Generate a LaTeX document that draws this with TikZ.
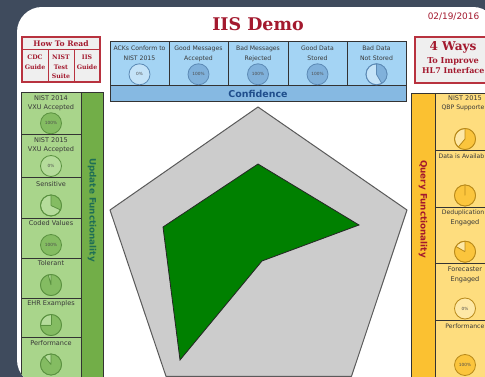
\documentclass[tikz,border=0pt]{standalone}
\usepackage{fontspec}
\setmainfont{DejaVu Sans}
\newfontfamily\serifbf{DejaVu Serif}
\definecolor{bgdark}{HTML}{3F4B5D}
\definecolor{titlered}{HTML}{A3192E}
\definecolor{boxred}{HTML}{B8323F}
\definecolor{boxgrey}{HTML}{EFEFEF}
\definecolor{bcell}{HTML}{A4D4F4}
\definecolor{bbar}{HTML}{86B9E2}
\definecolor{bfull}{HTML}{80B1DB}
\definecolor{bempty}{HTML}{C4E3F8}
\definecolor{bline}{HTML}{5C8AB5}
\definecolor{btext}{HTML}{1F4E8C}
\definecolor{gcell}{HTML}{A9D58B}
\definecolor{gstrip}{HTML}{72AE48}
\definecolor{gfull}{HTML}{84BC62}
\definecolor{gempty}{HTML}{B5DC9B}
\definecolor{gline}{HTML}{5A9140}
\definecolor{gtext}{HTML}{1E6E55}
\definecolor{ocell}{HTML}{FEDD7E}
\definecolor{ostrip}{HTML}{FBC131}
\definecolor{ofull}{HTML}{FBC53D}
\definecolor{oempty}{HTML}{FEE8A6}
\definecolor{oline}{HTML}{B8891A}
\definecolor{radgrey}{HTML}{CCCCCC}
\definecolor{radline}{HTML}{5A5A5A}
\definecolor{radgreen}{HTML}{008000}
\def\gr{7.875pt}
% name, x, y, palette, label
\newcommand\gaugeempty[5]{\node[gaugenode, fill=#4empty, draw=#4line] (#1) at (#2,#3) {#5};}
\newcommand\gaugefull[5]{\node[gaugenode, fill=#4full, draw=#4line] (#1) at (#2,#3) {#5};}
% name, x, y, palette, end angle
\newcommand\gaugepart[5]{%
  \node[gaugenode, fill=#4empty, draw=#4line] (#1) at (#2,#3) {};
  \fill[#4full] (#1.center) -- ++(90:\gr) arc[start angle=90, end angle=#5, radius=\gr] -- cycle;
  \draw[#4line, line width=0.6pt] (#1.center) -- ++(90:\gr) (#1.center) -- ++(#5:\gr);
  \draw[#4line, line width=0.6pt] (#1.center) circle[radius=\gr];
}
\begin{document}
\begin{tikzpicture}[x=0.75pt,y=-0.75pt,
  cellline/.style={draw=black!80, line width=0.75pt},
  celltxt/.style={font=\fontsize{4.9}{7}\selectfont, text=black!78, align=center, inner sep=0pt, anchor=north},
  bluetxt/.style={celltxt, font=\fontsize{4.6}{7}\selectfont},
  edgetxt/.style={bluetxt, anchor=north east},
  gaugenode/.style={circle, minimum size=15.75pt, inner sep=0pt, line width=0.6pt, font=\fontsize{3.2}{4}\selectfont, text=black!70},
  redbox/.style={draw=boxred, line width=1pt, fill=boxgrey},
  redsmall/.style={font=\serifbf\bfseries\fontsize{4.65}{7.1}\selectfont, text=titlered, align=center, inner sep=0pt, anchor=north},
  striptxt/.style={rotate=-90, font=\bfseries\fontsize{6.6}{8}\selectfont, inner sep=0pt}]
\useasboundingbox (0,0) rectangle (485,377);
\fill[bgdark] (0,0) rectangle (485,377);
\begin{scope}
\clip[rounded corners=18.75pt] (17,7) rectangle (498,385);
\fill[white] (17,7) rectangle (498,385);

% title and date
\node[font=\serifbf\bfseries\fontsize{13.1}{15}\selectfont, text=titlered, inner sep=0pt] (title) at (258,24.5) {IIS Demo};
\node[font=\fontsize{6.7}{8}\selectfont, text=titlered, inner sep=0pt] (date) at (453.5,16.5) {02/19/2016};

% How To Read
\draw[redbox] (22,37) rectangle (100,82);
\draw[boxred, line width=0.75pt] (22,50) -- (100,50) (48,50) -- (48,82) (74,50) -- (74,82);
\node[font=\serifbf\bfseries\fontsize{5.7}{7}\selectfont, text=titlered, inner sep=0pt] (howto) at (61,43.5) {How To Read};
\node[redsmall] (cdc) at (35,55) {CDC\\Guide};
\node[redsmall] (nist) at (61,55) {NIST\\Test\\Suite};
\node[redsmall] (iisg) at (87,55) {IIS\\Guide};

% 4 Ways
\draw[redbox] (415,37) rectangle (493,83);
\node[font=\serifbf\bfseries\fontsize{9.1}{11}\selectfont, text=titlered, inner sep=0pt] (ways) at (453,47.5) {4 Ways};
\node[font=\serifbf\bfseries\fontsize{6.15}{8}\selectfont, text=titlered, inner sep=0pt] (improve) at (453,61.7) {To Improve};
\node[font=\serifbf\bfseries\fontsize{5.95}{8}\selectfont, text=titlered, inner sep=0pt, anchor=east] (hl7) at (484.6,70.7) {HL7 Interface};

% Confidence panel
\fill[bcell] (110,42) rectangle (406,86);
\fill[bbar] (110,86) rectangle (406,102);
\draw[cellline] (110,42) rectangle (406,102) (110,86) -- (406,86)
  (169,42) -- (169,86) (228,42) -- (228,86) (288,42) -- (288,86) (347,42) -- (347,86);
\node[bluetxt] (bt1) at (139.5,46) {ACKs Conform to\\NIST 2015};
\node[bluetxt] (bt2) at (198.5,46) {Good Messages\\Accepted};
\node[bluetxt] (bt3) at (258,46) {Bad Messages\\Rejected};
\node[bluetxt] (bt4) at (317.5,46) {Good Data\\Stored};
\node[bluetxt] (bt5) at (376.5,46) {Bad Data\\Not Stored};
\gaugeempty{bg1}{139.5}{74.3}{b}{0\%}
\gaugefull{bg2}{198.5}{74.3}{b}{100\%}
\gaugefull{bg3}{258}{74.3}{b}{100\%}
\gaugefull{bg4}{317.5}{74.3}{b}{100\%}
\gaugepart{bg5}{376.5}{74.3}{b}{-60}
\node[font=\bfseries\fontsize{7.1}{9}\selectfont, text=btext, inner sep=0pt] (conf) at (258,93.8) {Confidence};

% Update functionality column
\fill[gcell] (21,93) rectangle (81,392);
\fill[gstrip] (81,93) rectangle (103,392);
\draw[cellline] (21,93) rectangle (103,392) (81,93) -- (81,392)
  (21,135) -- (81,135) (21,178) -- (81,178) (21,218.3) -- (81,218.3)
  (21,258.3) -- (81,258.3) (21,298.3) -- (81,298.3) (21,338) -- (81,338);
\node[striptxt, text=gtext] (updfun) at (92,210) {Update Functionality};
\node[celltxt] (gt1) at (51,95.0) {NIST 2014\\VXU Accepted};
\node[celltxt] (gt2) at (51,137.5) {NIST 2015\\VXU Accepted};
\node[celltxt] (gt3) at (51,181.0) {Sensitive};
\node[celltxt] (gt4) at (51,220.6) {Coded Values};
\node[celltxt] (gt5) at (51,260.6) {Tolerant};
\node[celltxt] (gt6) at (51,300.6) {EHR Examples};
\node[celltxt] (gt7) at (51,340.6) {Performance};
\gaugefull{gg1}{51}{123.3}{g}{100\%}
\gaugeempty{gg2}{51}{166}{g}{0\%}
\gaugepart{gg3}{51}{205.5}{g}{-25}
\gaugefull{gg4}{51}{245}{g}{100\%}
\gaugepart{gg5}{51}{285}{g}{-255}
\gaugepart{gg6}{51}{325}{g}{-180}
\gaugepart{gg7}{51}{364.5}{g}{-230}

% Query functionality column
\fill[ocell] (435,94) rectangle (500,392);
\fill[ostrip] (411.5,94) rectangle (435,392);
\draw[cellline] (411.5,94) rectangle (500,392) (435,94) -- (435,392)
  (435,150.7) -- (500,150.7) (435,207.3) -- (500,207.3) (435,264) -- (500,264) (435,320.7) -- (500,320.7);
\node[striptxt, text=titlered] (qryfun) at (423,209) {Query Functionality};
\node[celltxt] (ot1) at (465,95.3) {NIST 2015};
\node[edgetxt] (ot1b) at (484.6,104.6) {QBP Supporte};
\node[edgetxt] (ot2) at (484.6,153.2) {Data is Availab};
\node[edgetxt] (ot3) at (484.6,210.0) {Deduplication};
\node[celltxt] (ot3b) at (465,219.3) {Engaged};
\node[celltxt] (ot4) at (465,266.7) {Forecaster\\Engaged};
\node[edgetxt] (ot5) at (484.6,323.4) {Performance};
\gaugepart{og1}{465}{139}{o}{-130}
\gaugepart{og2}{465}{195.5}{o}{-269.5}
\gaugepart{og3}{465}{251.7}{o}{-210}
\gaugeempty{og4}{465}{308.5}{o}{0\%}
\gaugefull{og5}{465}{365}{o}{100\%}

% radar chart
\coordinate (P1) at (258,107);
\coordinate (P2) at (407,210);
\coordinate (P3) at (351.5,376.3);
\coordinate (P4) at (166,376.3);
\coordinate (P5) at (110,210);
\draw[fill=radgrey, draw=radline, line width=0.75pt, line join=round] (P1) -- (P2) -- (P3) -- (P4) -- (P5) -- cycle;
\coordinate (Q1) at (258,164);
\coordinate (Q2) at (359,225);
\coordinate (Q3) at (262,261);
\coordinate (Q4) at (180,360);
\coordinate (Q5) at (163,227);
\draw[fill=radgreen, draw=black!85, line width=0.6pt] (Q1) -- (Q2) -- (Q3) -- (Q4) -- (Q5) -- cycle;
\end{scope}
\end{tikzpicture}
\end{document}
